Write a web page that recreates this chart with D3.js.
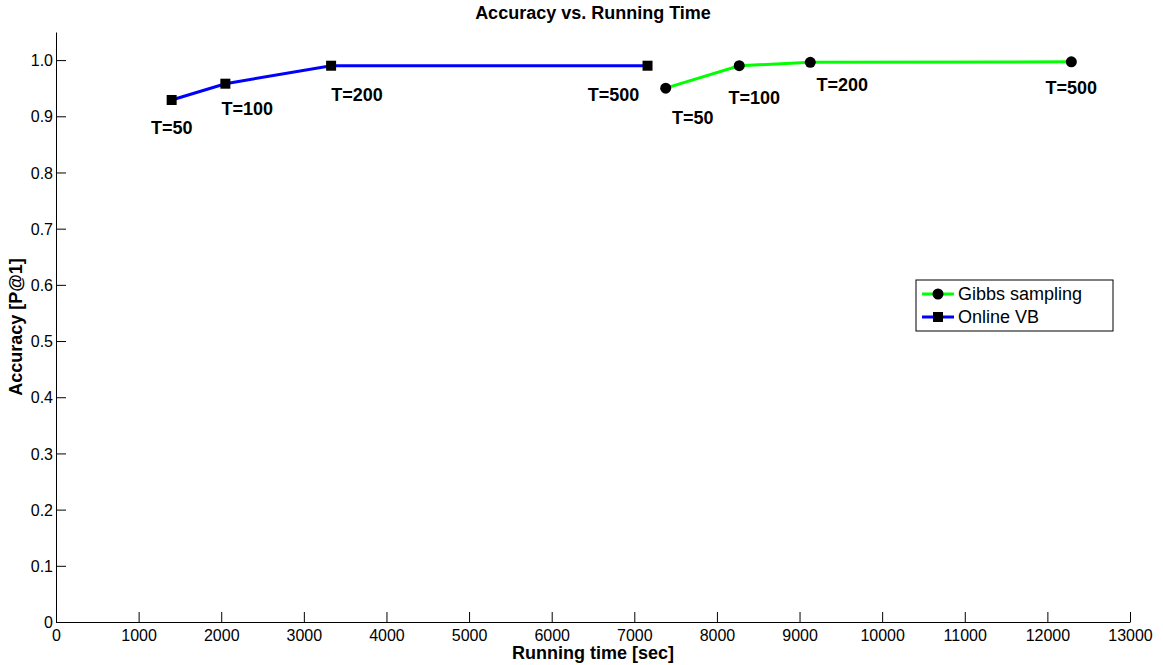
<!DOCTYPE html>
<html>
<head>
<meta charset="utf-8">
<script src="https://cdn.jsdelivr.net/npm/d3@7"></script>
<style>
  html, body { margin: 0; padding: 0; background: #fff; }
  svg { display: block; font-family: "Liberation Sans", Arial, Helvetica, sans-serif; }
</style>
</head>
<body>
<svg id="chart" width="1163" height="665"></svg>
<script>
// ---- data ----
const gibbsTime = [7380, 8270, 9130, 12290];
const gibbsAcc  = [0.950, 0.990, 0.996, 0.997];
const gibbsLabels = ["T=50", "T=100", "T=200", "T=500"];

const vbTime = [1400, 2050, 3330, 7160];
const vbAcc  = [0.929, 0.958, 0.990, 0.990];
const vbLabels = ["T=50", "T=100", "T=200", "T=500"];

const xTicks = [0, 1000, 2000, 3000, 4000, 5000, 6000, 7000, 8000, 9000, 10000, 11000, 12000, 13000];
const yTicks = [0, 0.1, 0.2, 0.3, 0.4, 0.5, 0.6, 0.7, 0.8, 0.9, 1.0];
const yTickLabels = ["0", "0.1", "0.2", "0.3", "0.4", "0.5", "0.6", "0.7", "0.8", "0.9", "1.0"];
const seriesNames = ["Gibbs sampling", "Online VB"];

// label offsets (pixels, relative to each point)
const vbLabelOffsets = [[0, 28], [22, 25], [26, 29], [-34, 29]];
const gibbsLabelOffsets = [[27, 29], [15, 32], [32, 22], [0, 26]];

// ---- layout ----
const svg = d3.select("#chart");
const mLeft = 56, mRight = 1130, mTop = 32, mBottom = 622;

const x = d3.scaleLinear().domain([0, 13000]).range([mLeft, mRight]);
const y = d3.scaleLinear().domain([0, 1.05]).range([mBottom, mTop]);

// axes (ticks inside)
const xAxis = d3.axisBottom(x).tickValues(xTicks).tickSizeInner(-10).tickSizeOuter(0)
  .tickFormat(d3.format("d"));
const gx = svg.append("g").attr("transform", `translate(0,${mBottom})`).call(xAxis);
gx.selectAll("text").attr("dy", "0").attr("y", 19).style("font-size", "16px").attr("fill", "#000");
gx.select(".domain").attr("stroke", "#000");
gx.selectAll(".tick line").attr("stroke", "#000");

const yAxis = d3.axisLeft(y).tickValues(yTicks).tickSizeInner(-10).tickSizeOuter(0)
  .tickFormat((d, i) => yTickLabels[i]);
const gy = svg.append("g").attr("transform", `translate(${mLeft},0)`).call(yAxis);
gy.selectAll("text").attr("x", -3).attr("dy", "0.35em").style("font-size", "16px").attr("fill", "#000");
gy.select(".domain").attr("stroke", "#000");
gy.selectAll(".tick line").attr("stroke", "#000");

// title and axis labels
svg.append("text").attr("x", (mLeft + mRight) / 2).attr("y", 19).attr("text-anchor", "middle")
  .style("font-size", "18px").style("font-weight", "bold").text("Accuracy vs. Running Time");
svg.append("text").attr("x", (mLeft + mRight) / 2).attr("y", 659).attr("text-anchor", "middle")
  .style("font-size", "18px").style("font-weight", "bold").text("Running time [sec]");
svg.append("text").attr("transform", `translate(22,${(mTop + mBottom) / 2}) rotate(-90)`)
  .attr("text-anchor", "middle").style("font-size", "18px").style("font-weight", "bold")
  .text("Accuracy [P@1]");

const line = d3.line().x(d => x(d[0])).y(d => y(d[1]));

// Online VB
const vbData = vbTime.map((t, i) => [t, vbAcc[i]]);
svg.append("path").datum(vbData).attr("d", line).attr("fill", "none")
  .attr("stroke", "#0000ff").attr("stroke-width", 3);
svg.selectAll(".vbm").data(vbData).enter().append("rect")
  .attr("x", d => x(d[0]) - 5).attr("y", d => y(d[1]) - 5)
  .attr("width", 10).attr("height", 10).attr("fill", "#000");
svg.selectAll(".vbl").data(vbData).enter().append("text")
  .attr("x", (d, i) => x(d[0]) + vbLabelOffsets[i][0])
  .attr("y", (d, i) => y(d[1]) + vbLabelOffsets[i][1] + 6.5)
  .attr("text-anchor", "middle").style("font-size", "18px").style("font-weight", "bold")
  .text((d, i) => vbLabels[i]);

// Gibbs sampling
const gData = gibbsTime.map((t, i) => [t, gibbsAcc[i]]);
svg.append("path").datum(gData).attr("d", line).attr("fill", "none")
  .attr("stroke", "#00ff00").attr("stroke-width", 3);
svg.selectAll(".gm").data(gData).enter().append("circle")
  .attr("cx", d => x(d[0])).attr("cy", d => y(d[1])).attr("r", 5.5).attr("fill", "#000");
svg.selectAll(".gl").data(gData).enter().append("text")
  .attr("x", (d, i) => x(d[0]) + gibbsLabelOffsets[i][0])
  .attr("y", (d, i) => y(d[1]) + gibbsLabelOffsets[i][1] + 6.5)
  .attr("text-anchor", "middle").style("font-size", "18px").style("font-weight", "bold")
  .text((d, i) => gibbsLabels[i]);

// legend
const lg = svg.append("g");
lg.append("rect").attr("x", 916).attr("y", 280).attr("width", 197).attr("height", 51)
  .attr("fill", "#fff").attr("stroke", "#000").attr("stroke-width", 1);
const legendColors = ["#00ff00", "#0000ff"];
seriesNames.forEach((name, i) => {
  const ly = 294 + i * 23;
  lg.append("line").attr("x1", 922).attr("x2", 954).attr("y1", ly).attr("y2", ly)
    .attr("stroke", legendColors[i]).attr("stroke-width", 3);
  if (i === 0) {
    lg.append("circle").attr("cx", 938).attr("cy", ly).attr("r", 5.5).attr("fill", "#000");
  } else {
    lg.append("rect").attr("x", 933).attr("y", ly - 5).attr("width", 10).attr("height", 10).attr("fill", "#000");
  }
  lg.append("text").attr("x", 958).attr("y", ly).attr("dy", "0.35em")
    .style("font-size", "18px").text(name);
});
</script>
</body>
</html>
